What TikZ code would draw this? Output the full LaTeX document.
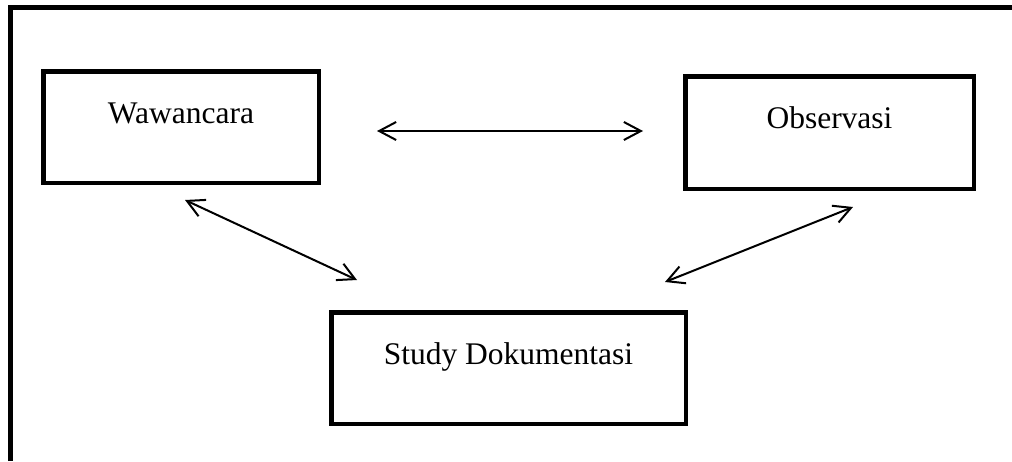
\documentclass[tikz,border=0pt]{standalone}
\usepackage{fontspec}
\setmainfont{Liberation Serif}
\usepackage{tikz}
\usetikzlibrary{arrows.meta}

\begin{document}
\begin{tikzpicture}[x=1pt,y=-1pt,
    box/.style={draw,line width=4.5pt,inner sep=0pt,text height=22pt,text depth=30pt,
        font=\fontsize{31.5}{38}\selectfont},
    link/.style={line width=2pt,{Straight Barb[length=17pt,width=18pt,line width=2pt]}-{Straight Barb[length=17pt,width=18pt,line width=2pt]}}]
    \useasboundingbox (0,0) rectangle (1012,461);

    % Frame
    \draw[line width=5pt] (10.5,461) -- (10.5,7.5) -- (1012,7.5);

    % Methods
    \node[box,minimum width=275.5pt,minimum height=111.5pt] (waw) at (181,127) {Wawancara};
    \node[box,minimum width=288.5pt,minimum height=112.5pt] (obs) at (829.5,132.5) {Observasi};
    \node[box,minimum width=354.5pt,minimum height=111.5pt] (study) at (508.5,368) {Study Dokumentasi};

    % Links between methods
    \draw[link] ([shift={(56,4)}]waw.east) -- ([shift={(-40,-1.5)}]obs.west);
    \draw[link] ([shift={(4,15)}]waw.south) -- ([shift={(28,-30)}]study.north west);
    \draw[link] ([shift={(23.5,16)}]obs.south) -- ([shift={(-23,-28)}]study.north east);
\end{tikzpicture}
\end{document}
